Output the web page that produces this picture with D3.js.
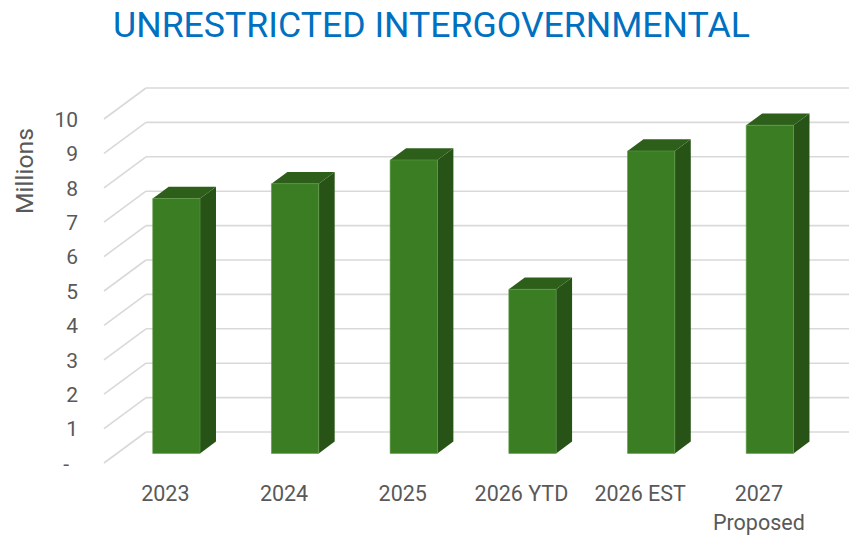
<!DOCTYPE html>
<html>
<head>
<meta charset="utf-8">
<script src="https://cdn.jsdelivr.net/npm/d3@7"></script>
<style>
  body { margin: 0; background: #fff; }
  text { font-family: Roboto, "Noto Sans", sans-serif; }
</style>
</head>
<body>
<div id="chart"></div>
<script>
// data
const categories = ["2023", "2024", "2025", "2026 YTD", "2026 EST", "2027 Proposed"];
const values = [7.41, 7.84, 8.53, 4.77, 8.79, 9.54];
const yTicks = [0, 1, 2, 3, 4, 5, 6, 7, 8, 9, 10];
const title = "UNRESTRICTED INTERGOVERNMENTAL";
const axisTitle = "Millions";

// layout
const width = 849;
const height = 536;
const depth = { dx: -42, dy: 31 }; // back wall -> front edge of floor
const barDepth = [0.31, 0.69];     // bar back / front as fraction of depth

const svg = d3.select('#chart').append('svg')
    .attr('width', width)
    .attr('height', height);

// scales live on the back wall
const x = d3.scaleBand()
    .domain(categories)
    .range([146, 858.2])
    .paddingInner(0.6015)
    .paddingOuter(0.3008);

const y = d3.scaleLinear()
    .domain([0, 10])
    .range([432, 88]);

// project a back-wall point forward by a depth fraction
const P = (px, v, f) => [px + f * depth.dx, y(v) + f * depth.dy];

// fit a text element to a target pixel width by adjusting font-size
function fitWidth(sel, base, target) {
    sel.style('font-size', base + 'px');
    const w = sel.node().getComputedTextLength();
    sel.style('font-size', (base * target / w) + 'px');
}

// title
const t = svg.append('text')
    .attr('x', 431.5)
    .attr('y', 37)
    .attr('text-anchor', 'middle')
    .attr('fill', '#0070C0')
    .text(title);
fitWidth(t, 34, 637);

// gridlines: back wall + left wall diagonals
const grid = svg.append('g')
    .attr('stroke', '#d9d9d9')
    .attr('stroke-width', 1.6)
    .attr('fill', 'none');

grid.selectAll('line.back')
    .data(yTicks)
    .enter().append('line')
    .attr('class', 'back')
    .attr('x1', x.range()[0]).attr('x2', width + 10)
    .attr('y1', d => y(d)).attr('y2', d => y(d));

grid.selectAll('line.side')
    .data(yTicks)
    .enter().append('line')
    .attr('class', 'side')
    .attr('x1', d => P(x.range()[0], d, 0)[0])
    .attr('y1', d => P(x.range()[0], d, 0)[1])
    .attr('x2', d => P(x.range()[0], d, 1)[0])
    .attr('y2', d => P(x.range()[0], d, 1)[1]);

// y axis labels at the front edge
const yFront = y.copy().range(y.range().map(v => v + depth.dy));
const yAxis = svg.append('g')
    .attr('transform', 'translate(78,0)')
    .call(d3.axisLeft(yFront)
        .tickValues(yTicks)
        .tickSize(0)
        .tickPadding(0)
        .tickFormat(d => d === 0 ? '-' : d));
yAxis.select('.domain').remove();
yAxis.selectAll('text')
    .attr('fill', '#595959')
    .style('font-size', '21px')
    .attr('dy', '0.35em')
    .attr('dx', d => d === 0 ? -9 : 0);

// axis title
const at = svg.append('text')
    .attr('transform', 'translate(33,171) rotate(-90)')
    .attr('text-anchor', 'middle')
    .attr('fill', '#595959')
    .text(axisTitle);
fitWidth(at, 22, 86);

// bars
const bars = svg.append('g').selectAll('g')
    .data(categories.map((c, i) => ({ c, v: values[i] })))
    .enter().append('g');

const poly = pts => 'M' + pts.map(p => p.join(',')).join('L') + 'Z';
const [f0, f1] = barDepth;

bars.append('path') // side
    .attr('fill', '#275317')
    .attr('d', d => {
        const x1 = x(d.c) + x.bandwidth();
        return poly([P(x1, 0, f1), P(x1, d.v, f1), P(x1, d.v, f0), P(x1, 0, f0)]);
    });

bars.append('path') // top
    .attr('fill', '#2d5f1b')
    .attr('d', d => {
        const x0 = x(d.c), x1 = x0 + x.bandwidth();
        return poly([P(x0, d.v, f1), P(x1, d.v, f1), P(x1, d.v, f0), P(x0, d.v, f0)]);
    });

bars.append('path') // front
    .attr('fill', '#3a7d22')
    .attr('stroke', '#5f9a48')
    .attr('stroke-width', 0.6)
    .attr('d', d => {
        const x0 = x(d.c), x1 = x0 + x.bandwidth();
        return poly([P(x0, 0, f1), P(x0, d.v, f1), P(x1, d.v, f1), P(x1, 0, f1)]);
    });

// category labels, wrapped when wider than a band step
const labels = svg.append('g')
    .selectAll('text')
    .data(categories)
    .enter().append('text')
    .attr('x', d => x(d) + x.bandwidth() / 2 - 40)
    .attr('y', 500.7)
    .attr('text-anchor', 'middle')
    .attr('fill', '#595959')
    .style('font-size', '21.5px')
    .text(d => d);

labels.each(function(d) {
    const el = d3.select(this);
    if (this.getComputedTextLength() < x.step()) return;
    const words = d.split(' ');
    el.text(null);
    const cx = el.attr('x');
    el.append('tspan').attr('x', cx).text(words[0]);
    el.append('tspan').attr('x', cx).attr('dy', 29).text(words.slice(1).join(' '));
});
</script>
</body>
</html>
